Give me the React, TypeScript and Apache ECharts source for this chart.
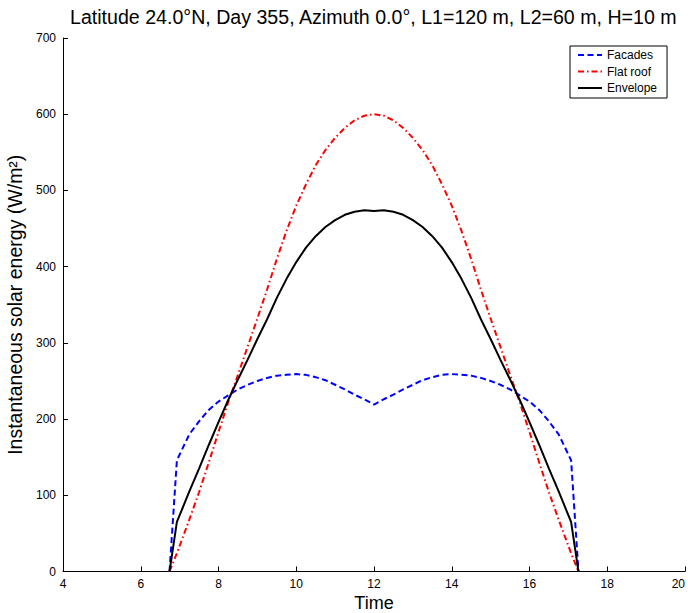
import React, { useEffect, useRef } from "react";
import * as echarts from "echarts";

const times = [6.74, 6.93, 7.25, 7.5, 7.75, 8, 8.25, 8.5, 8.75, 9, 9.25, 9.5, 9.75, 10, 10.25, 10.5, 10.75, 11, 11.25, 11.5, 11.75, 12,
  12.25, 12.5, 12.75, 13, 13.25, 13.5, 13.75, 14, 14.25, 14.5, 14.75, 15, 15.25, 15.5, 15.75, 16, 16.25, 16.5, 16.75, 17.07, 17.26];

const facades = [0, 146, 180, 197, 212, 223, 231, 239, 245, 250, 254, 257, 258, 259, 258, 255, 251, 245, 239, 232, 226, 219,
  226, 232, 239, 245, 251, 255, 258, 259, 258, 257, 254, 250, 245, 239, 231, 223, 212, 197, 180, 146, 0];

const flatRoof = [0, 24, 68, 104, 143, 183, 222, 258, 295, 332, 370, 410, 447, 480, 508, 533, 553, 569, 582, 592, 598, 600,
  598, 592, 582, 569, 553, 533, 508, 480, 447, 410, 370, 332, 295, 258, 222, 183, 143, 104, 68, 24, 0];

const envelope = [0, 65, 105, 135, 166, 196, 225, 252, 278, 305, 331, 359, 384, 406, 425, 440, 452, 461, 468, 472, 474, 473,
  474, 472, 468, 461, 452, 440, 425, 406, 384, 359, 331, 305, 278, 252, 225, 196, 166, 135, 105, 65, 0];

const titleText = "Latitude 24.0°N, Day 355, Azimuth 0.0°, L1=120 m, L2=60 m, H=10 m";
const xName = "Time";
const yName = "Instantaneous solar energy (W/m²)";

const FONT = "'Liberation Sans', Arial, Helvetica, sans-serif";

const pairs = (vals: number[]) => times.map((t, i) => [t, vals[i]]);

export default function App() {
  const ref = useRef<HTMLDivElement>(null);
  useEffect(() => {
    if (!ref.current) return;
    const chart = echarts.init(ref.current, null, { renderer: "svg" });
    chart.setOption({
      animation: false,
      backgroundColor: "#ffffff",
      textStyle: { fontFamily: FONT },
      title: {
        text: titleText,
        left: 70,
        top: 7,
        padding: 0,
        textStyle: { fontFamily: FONT, fontSize: 19.6, fontWeight: "normal", color: "#000" },
      },
      grid: {
        left: 63,
        right: 3,
        top: 38,
        bottom: 41.5,
        containLabel: false,
        outerBoundsMode: "none",
      },
      graphic: [
        {
          type: "text",
          x: 374,
          y: 603,
          style: {
            text: xName,
            fill: "#000",
            font: "18px 'Liberation Sans', Arial, Helvetica, sans-serif",
            textAlign: "center",
            textVerticalAlign: "middle",
          },
        },
      ],
      legend: {
        left: 570,
        top: 46,
        orient: "vertical",
        backgroundColor: "#fff",
        borderColor: "#000",
        borderWidth: 1,
        borderRadius: 0,
        padding: [3, 10, 4, 7],
        itemWidth: 24,
        itemHeight: 12,
        itemGap: 4.5,
        itemStyle: { opacity: 0 },
        textStyle: { fontFamily: FONT, fontSize: 12, color: "#000" },
        data: ["Facades", "Flat roof", "Envelope"],
      },
      xAxis: {
        type: "value",
        min: 4,
        max: 20,
        interval: 2,
        axisLine: { show: true, onZero: false, lineStyle: { color: "#000", width: 1 } },
        axisTick: { show: true, inside: true, length: 5, lineStyle: { color: "#000" } },
        axisLabel: { fontFamily: FONT, fontSize: 12, color: "#000", margin: 6, alignMaxLabel: "right" },
        splitLine: { show: false },
      },
      yAxis: {
        type: "value",
        min: 0,
        max: 700,
        interval: 100,
        name: yName,
        nameLocation: "middle",
        nameGap: 31,
        nameTextStyle: { fontFamily: FONT, fontSize: 19.5, color: "#000" },
        axisLine: { show: true, lineStyle: { color: "#000", width: 1 } },
        axisTick: { show: true, inside: true, length: 5, lineStyle: { color: "#000" } },
        axisLabel: { fontFamily: FONT, fontSize: 12, color: "#000", margin: 7 },
        splitLine: { show: false },
      },
      series: [
        {
          name: "Facades",
          type: "line",
          data: pairs(facades),
          symbol: "none",
          lineStyle: { color: "#0000ff", width: 2, type: [6, 3.5] },
          itemStyle: { color: "#0000ff" },
        },
        {
          name: "Flat roof",
          type: "line",
          data: pairs(flatRoof),
          symbol: "none",
          lineStyle: { color: "#ff0000", width: 2, type: [6, 3, 1.5, 3] },
          itemStyle: { color: "#ff0000" },
        },
        {
          name: "Envelope",
          type: "line",
          data: pairs(envelope),
          symbol: "none",
          lineStyle: { color: "#000000", width: 2, type: "solid" },
          itemStyle: { color: "#000000" },
        },
      ],
    });
    return () => chart.dispose();
  }, []);
  return (
    <div
      ref={ref}
      style={{ position: "absolute", left: 0, top: 0, width: 688, height: 613 }}
    />
  );
}
